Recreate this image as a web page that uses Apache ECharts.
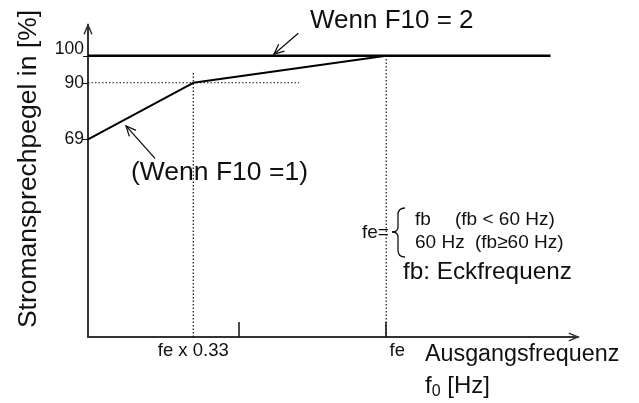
<!DOCTYPE html>
<html>
<head>
<meta charset="utf-8">
<script src="https://cdn.jsdelivr.net/npm/echarts@6/dist/echarts.min.js"></script>
<style>
html,body{margin:0;padding:0;background:#fff;}
#chart{width:639px;height:403px;}
</style>
</head>
<body>
<div id="chart"></div>
<script>
// ---- data ----
const xMin = 0, xMax = 1.643;
const yMin = -4.2, yMax = 111.4;

const curveF10_1_x = [0, 0.353, 1];
const curveF10_1_y = [69, 90, 100];
const curveF10_2_x = [0, 1.551];
const curveF10_2_y = [100, 100];

const guide90_x = [0, 0.708];
const guide90_y = [90, 90];
const guideKnee_x = [0.353, 0.353];
const guideKnee_y = [yMin, 94.1];
const guideFe_x = [1, 1];
const guideFe_y = [yMin, 100];

const yTickValues = [69, 90, 100];
const xTickValues = [0.504, 1];
const xLabelValues = [0.353, 1];
const xLabelTexts = ['fe x 0.33', 'fe'];

// annotation arrows: [tailX, tailY, tipX, tipY, drawShaft]
const arrowF10_2 = [0.705, 108.3, 0.6235, 100.6, 1];
const arrowF10_1 = [0.2246, 62.0, 0.1274, 74.0, 1];
const arrowXAxis = [1.5, yMin, xMax, yMin, 0];
const arrowYAxis = [0, 100, 0, yMax, 0];

const FONT = "'Liberation Sans', Arial, sans-serif";

function pairs(xs, ys) { return xs.map((x, i) => [x, ys[i]]); }

const chart = echarts.init(document.getElementById('chart'), null, {renderer: 'canvas'});

function dotted(name, xs, ys) {
  return {
    name, type: 'line', data: pairs(xs, ys), symbol: 'none', silent: true,
    lineStyle: {color: '#111', width: 1.2, type: [1.5, 2]}, z: 2
  };
}

function txt(x, y, text, size, extra) {
  return Object.assign({type: 'text', x: x, y: y,
    style: {text: text, fontFamily: FONT, fontSize: size, fill: '#111', align: 'left', verticalAlign: 'middle'}}, extra || {});
}
const braceStyle = {stroke: '#111', fill: null, lineWidth: 1.3};
function bz(x1, y1, cx, cy, x2, y2) {
  return {type: 'bezierCurve', shape: {x1: x1, y1: y1, cpx1: cx, cpy1: cy, x2: x2, y2: y2}, style: braceStyle};
}
function ln(x1, y1, x2, y2) {
  return {type: 'line', shape: {x1: x1, y1: y1, x2: x2, y2: y2}, style: braceStyle};
}

const option = {
  animation: false,
  backgroundColor: '#fff',
  grid: {left: 88, right: 61, top: 25, bottom: 66, containLabel: false},
  xAxis: {
    type: 'value', min: xMin, max: xMax,
    splitLine: {show: false},
    axisLine: {show: true, onZero: false, lineStyle: {color: '#333', width: 2}},
    axisTick: {show: true, inside: true, length: 15, customValues: xTickValues, lineStyle: {color: '#111', width: 1.5}},
    axisLabel: {
      show: true, customValues: xLabelValues, margin: 4,
      fontFamily: FONT, fontSize: 18.5, color: '#111',
      formatter: function (v) {
        const i = xLabelValues.indexOf(v);
        const t = i >= 0 ? xLabelTexts[i] : '';
        return i === 1 ? '{r|' + t + '}' : '{n|' + t + '}';
      },
      rich: {
        n: {fontFamily: FONT, fontSize: 18.5, color: '#111'},
        r: {fontFamily: FONT, fontSize: 18.5, color: '#111', padding: [0, 0, 0, 22]}
      }
    }
  },
  yAxis: {
    type: 'value', min: yMin, max: yMax,
    splitLine: {show: false},
    axisLine: {show: true, onZero: false, lineStyle: {color: '#333', width: 2}},
    axisTick: {show: true, length: 5, customValues: yTickValues, lineStyle: {color: '#111', width: 1}},
    axisLabel: {
      show: true, customValues: yTickValues, margin: 4,
      fontFamily: FONT, fontSize: 17.5, color: '#111',
      formatter: function (v) { return v === 100 ? '{up|100}' : '{n|' + v + '}'; },
      rich: {
        n: {fontFamily: FONT, fontSize: 17.5, color: '#111'},
        up: {fontFamily: FONT, fontSize: 17.5, color: '#111', padding: [0, 0, 14, 0]}
      }
    }
  },
  series: [
    dotted('guide90', guide90_x, guide90_y),
    dotted('guideKnee', guideKnee_x, guideKnee_y),
    dotted('guideFe', guideFe_x, guideFe_y),
    {
      name: 'F10=2', type: 'line', data: pairs(curveF10_2_x, curveF10_2_y), symbol: 'none',
      lineStyle: {color: '#000', width: 2.6}, z: 3
    },
    {
      name: 'F10=1', type: 'line', data: pairs(curveF10_1_x, curveF10_1_y), symbol: 'none',
      lineStyle: {color: '#000', width: 2}, z: 3
    },
    {
      name: 'arrows', type: 'custom', clip: false, silent: true, z: 4,
      data: [arrowF10_2, arrowF10_1, arrowXAxis, arrowYAxis],
      renderItem: function (params, api) {
        const p1 = api.coord([api.value(0), api.value(1)]);
        const p2 = api.coord([api.value(2), api.value(3)]);
        const shaft = api.value(4);
        const ang = Math.atan2(p2[1] - p1[1], p2[0] - p1[0]);
        const L = shaft ? 11 : 10, a = shaft ? 0.42 : 0.4;
        const h1 = [p2[0] - L * Math.cos(ang - a), p2[1] - L * Math.sin(ang - a)];
        const h2 = [p2[0] - L * Math.cos(ang + a), p2[1] - L * Math.sin(ang + a)];
        const children = [];
        if (shaft) {
          children.push({type: 'line', shape: {x1: p1[0], y1: p1[1], x2: p2[0], y2: p2[1]},
            style: {stroke: '#111', lineWidth: 1.3}});
        }
        children.push({type: 'polyline', shape: {points: [h1, p2, h2]},
          style: {stroke: shaft ? '#111' : '#333', fill: null, lineWidth: shaft ? 1.3 : 1.5}});
        return {type: 'group', children: children};
      }
    }
  ],
  graphic: [
    txt(28.5, 169, 'Stromansprechpegel in [%]', 26.5, {rotation: Math.PI / 2,
      style: {text: 'Stromansprechpegel in [%]', fontFamily: FONT, fontSize: 26.5, fill: '#111', align: 'center', verticalAlign: 'middle'}}),
    txt(310, 21, 'Wenn F10 = 2', 26),
    txt(131, 173, '(Wenn F10 =1)', 26.5),
    txt(362, 233, 'fe=', 19),
    bz(405, 208, 398, 208, 398, 215),
    ln(398, 215, 398, 227),
    bz(398, 227, 398, 232, 392, 232),
    bz(392, 232, 398, 232, 398, 237),
    ln(398, 237, 398, 250),
    bz(398, 250, 398, 257, 405, 257),
    txt(415, 220, 'fb', 19),
    txt(455, 220, '(fb < 60 Hz)', 19),
    txt(415, 243, '60 Hz', 19),
    txt(475, 243, '(fb≥60 Hz)', 19),
    txt(403, 272, 'fb: Eckfrequenz', 24.3),
    txt(425, 355, 'Ausgangsfrequenz', 23.3),
    {type: 'text', x: 425, y: 386,
      style: {text: '{m|f}{s|0}{m| [Hz]}', fontFamily: FONT, fontSize: 24, fill: '#111', align: 'left', verticalAlign: 'middle',
        rich: {
          m: {fontFamily: FONT, fontSize: 24, color: '#111'},
          s: {fontFamily: FONT, fontSize: 16, color: '#111', padding: [12, 0, 0, 0]}
        }}}
  ]
};

chart.setOption(option);
</script>
</body>
</html>
